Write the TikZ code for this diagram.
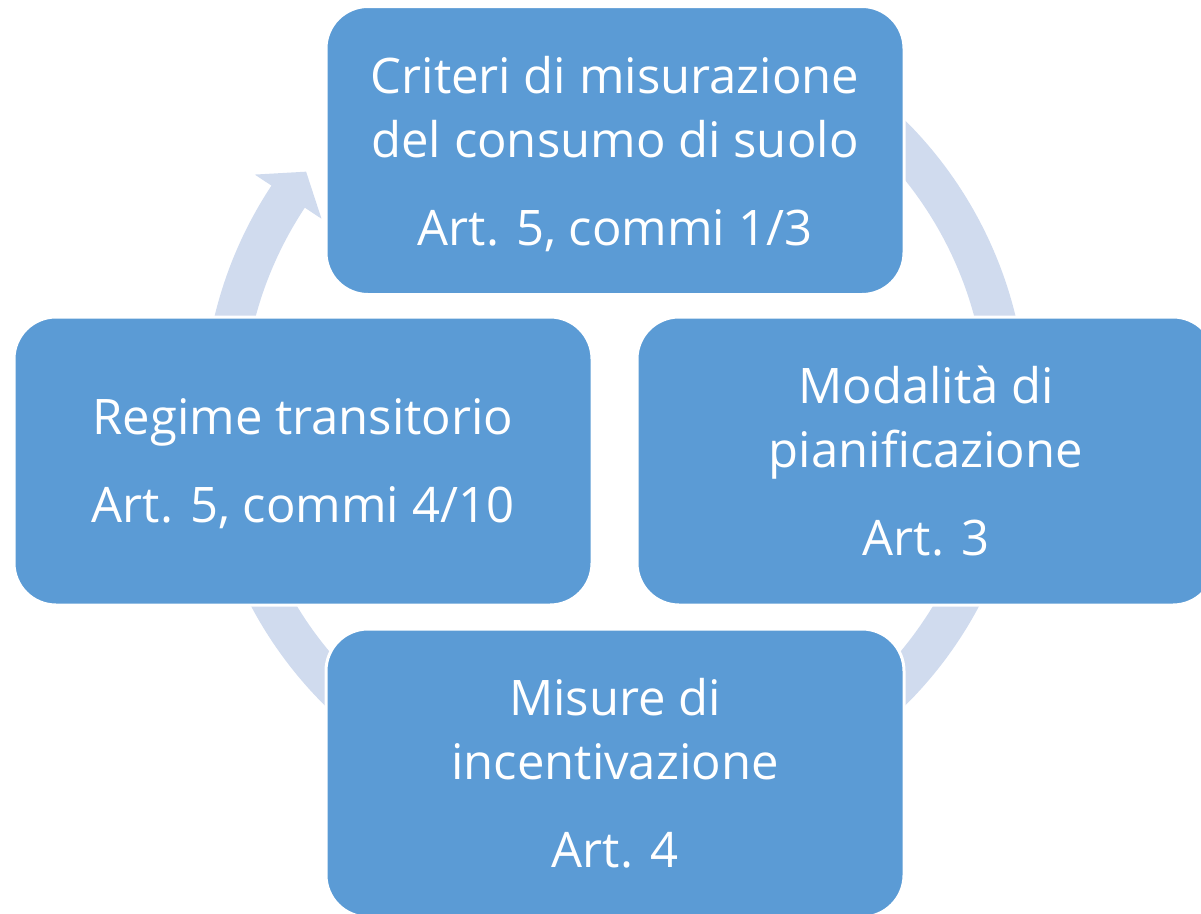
\documentclass[tikz,border=0pt]{standalone}
\usepackage{fontspec}
\setmainfont{Open Sans}
\definecolor{stagefill}{RGB}{91,155,213}
\definecolor{ringfill}{RGB}{208,219,238}

\begin{document}
\begin{tikzpicture}[x=1pt,y=1pt]
  \tikzstyle{stage}=[rectangle, rounded corners=42pt, fill=stagefill, draw=white, line width=3pt,
    minimum width=578pt, minimum height=288pt, text=white, align=center,
    font=\fontsize{49}{64}\selectfont, inner sep=0pt, text depth=0pt]
  \useasboundingbox (0,0) rectangle (1201,-913);
  \clip (0,0) rectangle (1201,-913);
  % cycle arrow behind the stages
  \coordinate (c) at (615,-413);
  \begin{scope}[shift={(c)}]
    \fill[ringfill] (78:412) arc[start angle=78, end angle=-213.5, radius=412]
      -- (-213.5:432) -- (-218:392) -- (-213.5:352) -- (-213.5:372)
      arc[start angle=-213.5, end angle=78, radius=372] -- cycle;
  \end{scope}
  \node[stage] (crit) at (615,-150.5) {Criteri di misurazione\\del consumo di suolo\\[24pt]Art. 5, commi 1/3};
  \node[stage] (mod) at (926,-461) {Modalità di\\pianificazione\\[24pt]Art. 3};
  \node[stage] (inc) at (615,-773) {Misure di\\incentivazione\\[24pt]Art. 4};
  \node[stage] (reg) at (303,-461) {Regime transitorio\\[24pt]Art. 5, commi 4/10};
\end{tikzpicture}
\end{document}
